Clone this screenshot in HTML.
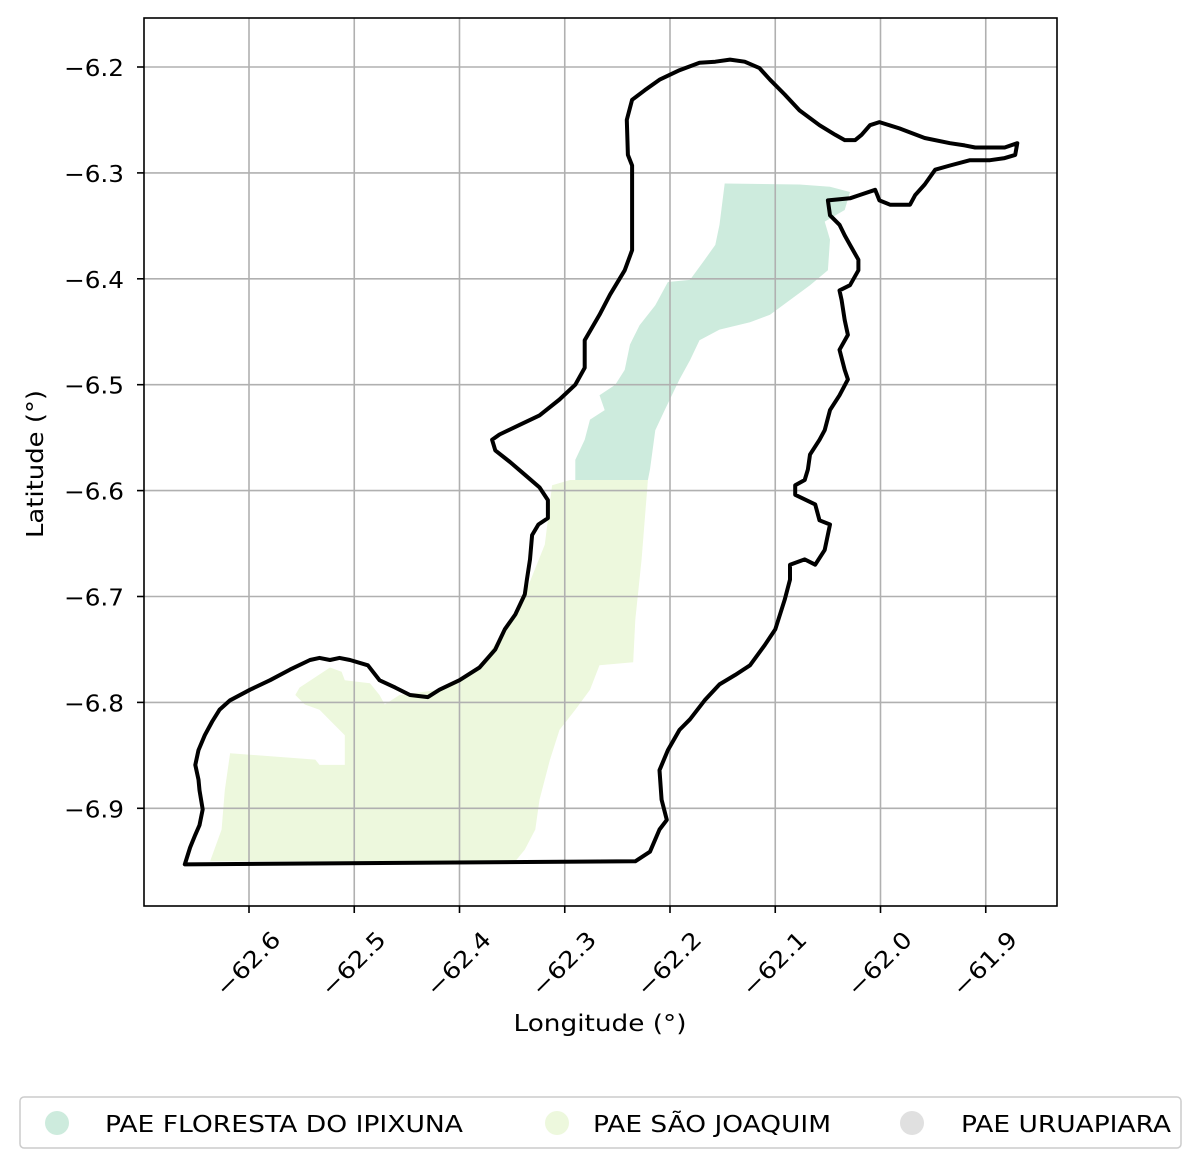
<!DOCTYPE html>
<html><head><meta charset="utf-8"><style>
body{margin:0;background:#fff}
svg{display:block;font-family:"DejaVu Sans","Liberation Sans",sans-serif}
</style></head><body>
<svg id="chart" width="1201" height="1168" viewBox="0 0 1201 1168">
<g id="fills"></g><g id="grid"></g><g id="outline"></g><g id="axes"></g>
<g>
<rect x="20" y="1097" width="1161" height="51" rx="4" fill="#fff" stroke="#ccc" stroke-width="1.5"/>
<circle cx="57" cy="1123" r="12" fill="#cdebdd"/>
<text x="105" y="1132" font-size="23" textLength="358" lengthAdjust="spacingAndGlyphs">PAE FLORESTA DO IPIXUNA</text>
<circle cx="557" cy="1123" r="12" fill="#edf8dd"/>
<text x="593" y="1132" font-size="23" textLength="238" lengthAdjust="spacingAndGlyphs">PAE SÃO JOAQUIM</text>
<circle cx="912" cy="1123" r="12" fill="#e0e0e0"/>
<text x="961" y="1132" font-size="23" textLength="210" lengthAdjust="spacingAndGlyphs">PAE URUAPIARA</text>
</g>
</svg>
<script>
const xTicks=[-62.6,-62.5,-62.4,-62.3,-62.2,-62.1,-62.0,-61.9];
const xTickLabels=["−62.6","−62.5","−62.4","−62.3","−62.2","−62.1","−62.0","−61.9"];
const yTicks=[-6.2,-6.3,-6.4,-6.5,-6.6,-6.7,-6.8,-6.9];
const yTickLabels=["−6.2","−6.3","−6.4","−6.5","−6.6","−6.7","−6.8","−6.9"];
const outlineLon=[-62.661,-62.233,-62.219,-62.210,-62.203,-62.208,-62.210,-62.202,-62.191,-62.181,-62.167,-62.153,-62.138,-62.124,-62.110,-62.100,-62.091,-62.086,-62.086,-62.072,-62.062,-62.053,-62.048,-62.058,-62.062,-62.081,-62.081,-62.072,-62.069,-62.067,-62.058,-62.053,-62.048,-62.039,-62.031,-62.034,-62.039,-62.031,-62.034,-62.037,-62.039,-62.029,-62.021,-62.021,-62.029,-62.034,-62.039,-62.048,-62.050,-62.029,-62.020,-62.005,-62.001,-61.991,-61.972,-61.967,-61.958,-61.948,-61.934,-61.915,-61.896,-61.882,-61.872,-61.870,-61.882,-61.910,-61.920,-61.934,-61.958,-61.982,-62.001,-62.010,-62.018,-62.024,-62.034,-62.043,-62.058,-62.077,-62.091,-62.105,-62.115,-62.129,-62.143,-62.157,-62.172,-62.191,-62.210,-62.224,-62.236,-62.241,-62.240,-62.236,-62.236,-62.236,-62.243,-62.257,-62.267,-62.281,-62.281,-62.290,-62.305,-62.324,-62.343,-62.362,-62.369,-62.366,-62.352,-62.338,-62.324,-62.316,-62.316,-62.325,-62.331,-62.333,-62.336,-62.338,-62.347,-62.357,-62.366,-62.381,-62.400,-62.419,-62.430,-62.447,-62.461,-62.476,-62.487,-62.504,-62.514,-62.523,-62.533,-62.542,-62.561,-62.580,-62.599,-62.618,-62.628,-62.635,-62.642,-62.648,-62.651,-62.648,-62.647,-62.644,-62.647,-62.651,-62.656];
const outlineLat=[-6.953,-6.950,-6.941,-6.920,-6.911,-6.892,-6.864,-6.845,-6.826,-6.816,-6.798,-6.783,-6.774,-6.765,-6.746,-6.731,-6.703,-6.684,-6.670,-6.665,-6.670,-6.656,-6.632,-6.628,-6.613,-6.604,-6.595,-6.590,-6.580,-6.566,-6.552,-6.543,-6.524,-6.510,-6.495,-6.486,-6.467,-6.453,-6.439,-6.420,-6.411,-6.406,-6.392,-6.382,-6.368,-6.359,-6.349,-6.340,-6.326,-6.324,-6.321,-6.316,-6.326,-6.330,-6.330,-6.321,-6.311,-6.297,-6.293,-6.288,-6.288,-6.286,-6.283,-6.272,-6.276,-6.276,-6.274,-6.272,-6.267,-6.258,-6.252,-6.255,-6.264,-6.269,-6.269,-6.264,-6.255,-6.241,-6.226,-6.212,-6.201,-6.195,-6.193,-6.195,-6.196,-6.203,-6.212,-6.222,-6.231,-6.250,-6.283,-6.293,-6.316,-6.373,-6.392,-6.415,-6.434,-6.458,-6.484,-6.500,-6.514,-6.529,-6.538,-6.547,-6.552,-6.562,-6.573,-6.585,-6.597,-6.609,-6.626,-6.632,-6.642,-6.665,-6.684,-6.698,-6.717,-6.731,-6.750,-6.767,-6.779,-6.788,-6.795,-6.793,-6.786,-6.779,-6.765,-6.760,-6.758,-6.760,-6.758,-6.760,-6.769,-6.779,-6.788,-6.798,-6.807,-6.818,-6.831,-6.845,-6.859,-6.873,-6.883,-6.901,-6.916,-6.925,-6.937];
const ipixunaLon=[-62.148,-62.077,-62.048,-62.029,-62.034,-62.053,-62.048,-62.050,-62.067,-62.086,-62.105,-62.124,-62.153,-62.172,-62.181,-62.191,-62.205,-62.214,-62.219,-62.221,-62.290,-62.290,-62.281,-62.276,-62.262,-62.267,-62.252,-62.243,-62.238,-62.229,-62.214,-62.202,-62.181,-62.167,-62.157,-62.153];
const ipixunaLat=[-6.310,-6.311,-6.313,-6.318,-6.335,-6.346,-6.363,-6.392,-6.406,-6.420,-6.434,-6.441,-6.448,-6.458,-6.477,-6.495,-6.524,-6.543,-6.580,-6.590,-6.590,-6.571,-6.552,-6.533,-6.524,-6.510,-6.500,-6.486,-6.462,-6.444,-6.425,-6.403,-6.401,-6.382,-6.368,-6.349];
const joaquimLon=[-62.295,-62.221,-62.227,-62.233,-62.235,-62.267,-62.276,-62.290,-62.305,-62.314,-62.324,-62.328,-62.338,-62.347,-62.637,-62.626,-62.623,-62.618,-62.537,-62.533,-62.509,-62.509,-62.523,-62.533,-62.547,-62.556,-62.552,-62.523,-62.512,-62.509,-62.485,-62.476,-62.471,-62.457,-62.419,-62.381,-62.357,-62.338,-62.319,-62.312];
const joaquimLat=[-6.590,-6.590,-6.665,-6.722,-6.762,-6.765,-6.788,-6.807,-6.826,-6.854,-6.892,-6.920,-6.939,-6.950,-6.950,-6.920,-6.883,-6.848,-6.854,-6.859,-6.859,-6.831,-6.817,-6.807,-6.802,-6.793,-6.786,-6.767,-6.771,-6.779,-6.782,-6.793,-6.802,-6.793,-6.788,-6.767,-6.731,-6.698,-6.651,-6.595];

const L=144,R=1057,T=18,B=906;
function X(lon){return 249+(lon+62.6)*1052.5;}
function Y(lat){return 67+(-6.2-lat)*1059;}
const NS='http://www.w3.org/2000/svg';
function mk(tag,attrs,parent){const e=document.createElementNS(NS,tag);for(const k in attrs)e.setAttribute(k,attrs[k]);parent.appendChild(e);return e;}
function pts(lo,la){return lo.map((v,i)=>X(v).toFixed(1)+','+Y(la[i]).toFixed(1)).join(' ');}
const fills=document.getElementById('fills');
let p=mk('polygon',{points:pts(joaquimLon,joaquimLat),fill:'#edf8dd'},fills);


p=mk('polygon',{points:pts(ipixunaLon,ipixunaLat),fill:'#cdebdd'},fills);


const grid=document.getElementById('grid');
xTicks.forEach(v=>{const l=mk('line',{x1:X(v),x2:X(v),y1:T,y2:B,stroke:'#b0b0b0','stroke-width':1.6},grid);

});
yTicks.forEach(v=>{const l=mk('line',{x1:L,x2:R,y1:Y(v),y2:Y(v),stroke:'#b0b0b0','stroke-width':1.6},grid);

});
const ol=mk('polygon',{points:pts(outlineLon,outlineLat),fill:'none',stroke:'#000','stroke-width':4,'stroke-linejoin':'round'},document.getElementById('outline'));


const ax=document.getElementById('axes');
const fr=mk('rect',{x:L,y:T,width:R-L,height:B-T,fill:'none',stroke:'#000','stroke-width':1.6},ax);


xTicks.forEach((v,i)=>{const x=X(v);
mk('line',{x1:x,x2:x,y1:B,y2:B+7,stroke:'#000','stroke-width':1.6},ax);
const ex=x+33, ey=B+35;
const t=mk('text',{x:ex,y:ey,'font-size':23,'text-anchor':'end',textLength:80,lengthAdjust:'spacingAndGlyphs',transform:`rotate(-45 ${ex} ${ey})`},ax);
t.textContent=xTickLabels[i];

});
yTicks.forEach((v,i)=>{const y=Y(v);
mk('line',{x1:L-7,x2:L,y1:y,y2:y,stroke:'#000','stroke-width':1.6},ax);
const t=mk('text',{x:L-20,y:y+9,'font-size':23,'text-anchor':'end',textLength:60,lengthAdjust:'spacingAndGlyphs'},ax);
t.textContent=yTickLabels[i];

});
let t=mk('text',{x:600,y:1031,'font-size':23,'text-anchor':'middle',textLength:173,lengthAdjust:'spacingAndGlyphs'},ax);
t.textContent='Longitude (°)';


t=mk('text',{x:43,y:464,'font-size':23,'text-anchor':'middle',textLength:148,lengthAdjust:'spacingAndGlyphs',transform:'rotate(-90 43 464)'},ax);
t.textContent='Latitude (°)';


</script>
</body></html>
